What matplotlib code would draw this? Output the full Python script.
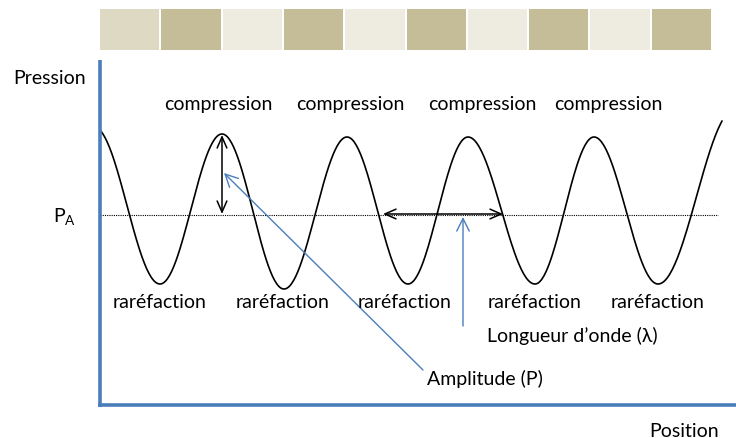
import numpy as np
import matplotlib.pyplot as plt
from matplotlib.patches import Rectangle

plt.rcParams['font.family'] = ['Lato', 'DejaVu Sans']

# bandeau du haut (alternance de tons)
bloc_couleurs = ['#ddd9c3', '#c4bd97', '#eeece1', '#c4bd97', '#eeece1',
                 '#c4bd97', '#eeece1', '#c4bd97', '#eeece1', '#c4bd97']

# extrema de l'onde : position, pression (repere en pixels, y vers le bas)
extrema_x = [94, 160, 222, 284, 347, 408, 468, 535, 594, 658, 735]
extrema_y = [128, 285, 135, 290, 138, 285, 138, 285, 138, 285, 110]

p_ambiante = 216
compression_x = [218, 350, 482, 608]
rarefaction_x = [160, 283, 405, 535, 658]

bleu = '#4a7ebb'

fig = plt.figure(figsize=(7.36, 4.39), dpi=100)
ax = fig.add_axes([0, 0, 1, 1])
ax.set_xlim(0, 736)
ax.set_ylim(439, 0)
ax.axis('off')

# bandeau
x0, larg, gap = 100, 61.3, 2
for i, c in enumerate(bloc_couleurs):
    ax.add_patch(Rectangle((x0 + i * larg, 10), larg - gap, 41, color=c, lw=0))

# onde : demi-cosinus entre chaque extremum
xs, ys = [], []
for i in range(len(extrema_x) - 1):
    t = np.linspace(0, 1, 60)
    xs.append(extrema_x[i] + (extrema_x[i + 1] - extrema_x[i]) * t)
    ys.append(extrema_y[i] + (extrema_y[i + 1] - extrema_y[i]) * (1 - np.cos(np.pi * t)) / 2)
xs = np.concatenate(xs)
ys = np.concatenate(ys)
m = (xs >= 100) & (xs <= 722)
ax.plot(xs[m], ys[m], color='black', lw=1.2)

# pression ambiante
ax.plot([100, 718], [p_ambiante, p_ambiante], color='black', lw=0.8, ls=(0, (1, 1)))

# axes
ax.plot([99.5, 99.5], [61, 408], color=bleu, lw=2.6, solid_capstyle='butt')
ax.plot([98, 736], [406, 406], color=bleu, lw=2.6, solid_capstyle='butt')

# fleches noires
noir = dict(arrowstyle='<->,head_length=0.8,head_width=0.35', color='black', lw=1.1,
            shrinkA=0, shrinkB=0)
ax.annotate('', xy=(222, 136), xytext=(222, 215), arrowprops=noir)
ax.annotate('', xy=(383, 215), xytext=(503, 215), arrowprops=noir)

# fleches bleues
fb = dict(arrowstyle='->,head_length=0.9,head_width=0.45', color=bleu, lw=1,
          shrinkA=0, shrinkB=0)
ax.annotate('', xy=(224, 174), xytext=(423, 371), arrowprops=fb)
ax.annotate('', xy=(463, 218), xytext=(463, 327), arrowprops=fb)

fs = 14
for x in compression_x:
    ax.text(x, 105, 'compression', ha='center', va='center', fontsize=fs)
for x in rarefaction_x:
    ax.text(x, 303, 'raréfaction', ha='center', va='center', fontsize=fs)

ax.text(13, 78, 'Pression', ha='left', va='center', fontsize=fs)
ax.text(53, 217, r'$\mathregular{P_A}$', ha='left', va='center', fontsize=fs)
ax.text(649, 432, 'Position', ha='left', va='center', fontsize=fs)
ax.text(427, 379, 'Amplitude (P)', ha='left', va='center', fontsize=fs)
ax.text(487, 336, 'Longueur d’onde (λ)', ha='left', va='center', fontsize=fs)

fig.savefig('out.png', dpi=100)
